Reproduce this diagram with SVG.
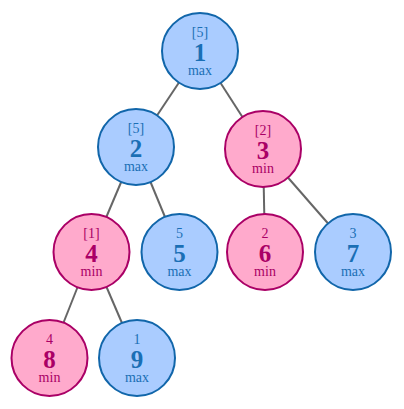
<svg xmlns="http://www.w3.org/2000/svg" width="404" height="409" viewBox="0 0 404 409">
<style>
.e{stroke:#666;stroke-width:2;fill:none}
.max circle{fill:#aaccff;stroke:#1166aa;stroke-width:2}
.min circle{fill:#ffaacc;stroke:#aa0066;stroke-width:2}
.max text{fill:#1a6fb5}
.min text{fill:#aa0066}
text{text-anchor:middle;font-family:"Liberation Serif","DejaVu Serif",serif}
.t{font-size:14px}
.n{font-size:25px;font-weight:bold}
.s{font-size:14px}
</style>
<rect width="404" height="409" fill="#fff"/>
<g id="edges">
<line class="e" x1="200" y1="51" x2="136" y2="147"/>
<line class="e" x1="200" y1="51" x2="263" y2="149"/>
<line class="e" x1="136" y1="147" x2="91.5" y2="252"/>
<line class="e" x1="136" y1="147" x2="179.5" y2="252"/>
<line class="e" x1="263" y1="149" x2="265" y2="252"/>
<line class="e" x1="263" y1="149" x2="353" y2="252"/>
<line class="e" x1="91.5" y1="252" x2="49.5" y2="358"/>
<line class="e" x1="91.5" y1="252" x2="137" y2="358"/>
</g>
<g id="n1" class="max"><circle cx="200" cy="51" r="38"/><text class="t" x="200" y="37">[5]</text><text class="n" x="200" y="61">1</text><text class="s" x="200" y="75">max</text></g>
<g id="n2" class="max"><circle cx="136" cy="147" r="38"/><text class="t" x="136" y="133">[5]</text><text class="n" x="136" y="157">2</text><text class="s" x="136" y="171">max</text></g>
<g id="n3" class="min"><circle cx="263" cy="149" r="38"/><text class="t" x="263" y="135">[2]</text><text class="n" x="263" y="159">3</text><text class="s" x="263" y="173">min</text></g>
<g id="n4" class="min"><circle cx="91.5" cy="252" r="38"/><text class="t" x="91.5" y="238">[1]</text><text class="n" x="91.5" y="262">4</text><text class="s" x="91.5" y="276">min</text></g>
<g id="n5" class="max"><circle cx="179.5" cy="252" r="38"/><text class="t" x="179.5" y="238">5</text><text class="n" x="179.5" y="262">5</text><text class="s" x="179.5" y="276">max</text></g>
<g id="n6" class="min"><circle cx="265" cy="252" r="38"/><text class="t" x="265" y="238">2</text><text class="n" x="265" y="262">6</text><text class="s" x="265" y="276">min</text></g>
<g id="n7" class="max"><circle cx="353" cy="252" r="38"/><text class="t" x="353" y="238">3</text><text class="n" x="353" y="262">7</text><text class="s" x="353" y="276">max</text></g>
<g id="n8" class="min"><circle cx="49.5" cy="358" r="38"/><text class="t" x="49.5" y="344">4</text><text class="n" x="49.5" y="368">8</text><text class="s" x="49.5" y="382">min</text></g>
<g id="n9" class="max"><circle cx="137" cy="358" r="38"/><text class="t" x="137" y="344">1</text><text class="n" x="137" y="368">9</text><text class="s" x="137" y="382">max</text></g>
</svg>
